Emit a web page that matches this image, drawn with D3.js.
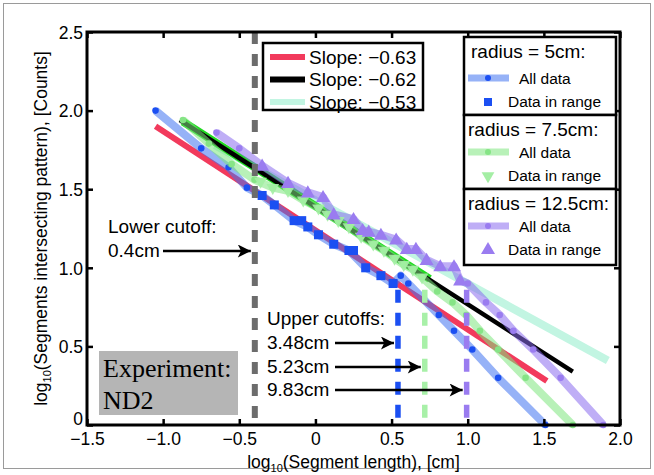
<!DOCTYPE html>
<html><head><meta charset="utf-8">
<script src="https://cdn.jsdelivr.net/npm/d3@7"></script>
<style>
body{margin:0;background:#fff;}
svg{display:block;font-family:"Liberation Sans",Arial,sans-serif;}
</style></head>
<body><svg id="c" width="654" height="475"></svg>
<script>
// ---------- data ----------
const xTicks = [-1.5, -1.0, -0.5, 0, 0.5, 1.0, 1.5, 2.0];
const yTicks = [0, 0.5, 1.0, 1.5, 2.0, 2.5];

// radius = 5cm
const r5All = [[-1.05,2.00],[-0.75,1.76],[-0.57,1.64],[-0.45,1.51],[-0.35,1.46],[-0.27,1.40],[-0.14,1.30],[-0.05,1.26],[0.02,1.21],[0.12,1.15],[0.22,1.11],[0.33,1.00],[0.43,0.95],[0.51,0.90],[0.56,0.95],[0.61,0.90],[0.81,0.70],[0.91,0.60],[1.03,0.48],[1.20,0.30],[1.51,0.00]];
const r5Range = [[-0.35,1.46],[-0.27,1.40],[-0.14,1.30],[-0.09,1.30],[-0.05,1.26],[0.02,1.21],[0.12,1.15],[0.22,1.11],[0.25,1.11],[0.33,1.00],[0.43,0.95],[0.51,0.90]];
// radius = 7.5cm
const r75All = [[-0.87,1.94],[-0.70,1.79],[-0.55,1.66],[-0.40,1.56],[-0.28,1.51],[-0.18,1.49],[-0.08,1.43],[0.02,1.38],[0.08,1.34],[0.15,1.30],[0.22,1.26],[0.30,1.20],[0.38,1.15],[0.45,1.11],[0.52,1.06],[0.58,1.02],[0.64,0.99],[0.70,0.94],[0.80,0.85],[0.90,0.78],[0.99,0.70],[1.08,0.60],[1.20,0.48],[1.38,0.30],[1.69,0.00]];
const r75Range = [[-0.36,1.55],[-0.28,1.51],[-0.18,1.49],[-0.08,1.43],[0.02,1.38],[0.08,1.34],[0.15,1.30],[0.22,1.26],[0.30,1.20],[0.38,1.15],[0.45,1.11],[0.52,1.06],[0.58,1.02],[0.64,0.99],[0.70,0.94]];
// radius = 12.5cm
const r125All = [[-0.65,1.86],[-0.50,1.76],[-0.35,1.65],[-0.18,1.54],[-0.05,1.48],[0.05,1.45],[0.12,1.34],[0.25,1.31],[0.31,1.24],[0.35,1.23],[0.43,1.21],[0.53,1.18],[0.60,1.12],[0.66,1.12],[0.73,1.05],[0.82,1.01],[0.91,1.01],[0.95,0.92],[1.00,0.90],[1.12,0.78],[1.21,0.70],[1.30,0.60],[1.43,0.48],[1.61,0.30],[1.89,0.00]];
const r125Range = [[-0.35,1.65],[-0.18,1.54],[-0.05,1.48],[0.05,1.45],[0.12,1.34],[0.25,1.31],[0.31,1.24],[0.35,1.23],[0.43,1.21],[0.53,1.18],[0.60,1.12],[0.66,1.12],[0.73,1.05],[0.82,1.01],[0.91,1.01],[0.95,0.92]];

// fitted lines (endpoints)
const redFit   = [[-1.05,1.90],[1.52,0.28]];
const blackFit = [[-0.89,1.94],[1.69,0.34]];
const cyanFit  = [[-0.66,1.78],[1.92,0.41]];
const greenBand = [[-0.87,1.93],[0.75,0.93]];
const slopeLabels = ["Slope: \u22120.63","Slope: \u22120.62","Slope: \u22120.53"];

// cutoffs (log10 cm)
const lowerCut = -0.398;
const upperCuts = [0.542, 0.718, 0.993];
const upperCutTop = [0.86, 0.86, 0.86];
const upperLabels = ["3.48cm","5.23cm","9.83cm"];

// ---------- drawing ----------
const svg = d3.select("#c");
const x = d3.scaleLinear([-1.5, 2.0], [87, 620]);
const y = d3.scaleLinear([0, 2.5], [425, 32]);
const line = d3.line().x(d => x(d[0])).y(d => y(d[1]));
const fmt = v => (v === 0 ? "0" : d3.format(".1f")(v).replace("-", "\u2212"));

// outer frame
svg.append("rect").attr("x",3.5).attr("y",3.5).attr("width",647).attr("height",465)
  .attr("fill","none").attr("stroke","#9a9a9a").attr("stroke-width",1);

const C = {
  blue:"#1b4ff2", blueLine:"#3f72f0",
  green:"#a4eea4", greenLine:"#7ee57e", greenDot:"#86e486",
  purple:"#9a7cf0", purpleLine:"#8b6bef",
  red:"#f23a5c", cyan:"#c2f5e2", gray:"#6c6c6c"
};

const plot = svg.append("g");

// fit lines
plot.append("path").datum(cyanFit).attr("d",line).attr("stroke",C.cyan).attr("stroke-width",8).attr("fill","none");
plot.append("path").datum(redFit).attr("d",line).attr("stroke",C.red).attr("stroke-width",6).attr("fill","none");
plot.append("path").datum(greenBand).attr("d",line).attr("stroke","#22d922").attr("stroke-width",8).attr("fill","none");
plot.append("path").datum(blackFit).attr("d",line).attr("stroke","#000").attr("stroke-width",4.5).attr("fill","none");

// all-data lines (translucent)
const series = [
  {all:r5All, col:C.blueLine, dot:C.blue},
  {all:r75All, col:C.greenLine, dot:C.greenDot},
  {all:r125All, col:C.purpleLine, dot:C.purple}
];
series.forEach(s => {
  plot.append("path").datum(s.all).attr("d",line).attr("stroke",s.col).attr("stroke-opacity",0.55)
    .attr("stroke-width",8).attr("stroke-linejoin","round").attr("fill","none");
  plot.selectAll(null).data(s.all).enter().append("circle")
    .attr("cx",d=>x(d[0])).attr("cy",d=>y(d[1])).attr("r",3.3).attr("fill",s.dot);
});

// in-range markers
const sq = 9;
plot.selectAll(null).data(r5Range).enter().append("rect")
  .attr("x",d=>x(d[0])-sq/2).attr("y",d=>y(d[1])-sq/2).attr("width",sq).attr("height",sq).attr("fill",C.blue);
const triDown = d3.symbol().type(d3.symbolTriangle).size(70);
plot.selectAll(null).data(r75Range).enter().append("path")
  .attr("d",triDown).attr("transform",d=>`translate(${x(d[0])},${y(d[1])}) rotate(180)`).attr("fill",C.green).attr("fill-opacity",0.9);
const triUp = d3.symbol().type(d3.symbolTriangle).size(85);
plot.selectAll(null).data(r125Range).enter().append("path")
  .attr("d",triUp).attr("transform",d=>`translate(${x(d[0])},${y(d[1])+1})`).attr("fill",C.purple);

// cutoff lines
plot.append("line").attr("x1",x(lowerCut)).attr("x2",x(lowerCut)).attr("y1",y(2.5)).attr("y2",y(0))
  .attr("stroke",C.gray).attr("stroke-width",6).attr("stroke-dasharray","12,10");
const cutCols = [C.blue, "#a8f0a8", C.purple];
upperCuts.forEach((u,i) => {
  plot.append("line").attr("x1",x(u)).attr("x2",x(u)).attr("y1",y(upperCutTop[i])).attr("y2",y(0))
    .attr("stroke",cutCols[i]).attr("stroke-width",5.5).attr("stroke-dasharray","13,10");
});

// axes
const xAxis = d3.axisBottom(x).tickValues(xTicks).tickSize(-6).tickSizeOuter(0).tickPadding(8).tickFormat(fmt);
const gx = svg.append("g").attr("transform",`translate(0,${y(0)})`).call(xAxis);
const xAxisTop = d3.axisTop(x).tickValues(xTicks).tickSize(-6).tickSizeOuter(0).tickFormat("");
const gxt = svg.append("g").attr("transform",`translate(0,${y(2.5)})`).call(xAxisTop);
const yAxis = d3.axisLeft(y).tickValues(yTicks).tickSize(-6).tickSizeOuter(0).tickPadding(4).tickFormat(fmt);
const gy = svg.append("g").attr("transform",`translate(${x(-1.5)},0)`).call(yAxis);
const yAxisR = d3.axisRight(y).tickValues(yTicks).tickSize(-6).tickSizeOuter(0).tickFormat("");
const gyr = svg.append("g").attr("transform",`translate(${x(2.0)},0)`).call(yAxisR);
[gx,gxt,gy,gyr].forEach(g => {
  g.select(".domain").remove();
  g.selectAll(".tick line").attr("stroke","#000").attr("stroke-width",2.5);
  g.selectAll("text").attr("font-size",17.5).attr("fill","#000").attr("font-family","Liberation Sans, Arial, sans-serif");
});
gy.selectAll("text").attr("dy","0.36em");
gy.selectAll(".tick").filter(d => d === 0).select("text").attr("dy","-0.05em");
svg.append("rect").attr("x",x(-1.5)).attr("y",y(2.5)).attr("width",x(2)-x(-1.5)).attr("height",y(0)-y(2.5))
  .attr("fill","none").attr("stroke","#000").attr("stroke-width",3);

// axis titles
const xt = svg.append("text").attr("x",(x(-1.5)+x(2))/2).attr("y",468).attr("text-anchor","middle").attr("font-size",17.5);
xt.append("tspan").text("log");
xt.append("tspan").text("10").attr("font-size",11).attr("dy",4);
xt.append("tspan").text("(Segment length), [cm]").attr("dy",-4);
const yt = svg.append("text").attr("transform",`translate(47,${(y(0)+y(2.5))/2}) rotate(-90)`).attr("text-anchor","middle").attr("font-size",17.5);
yt.append("tspan").text("log");
yt.append("tspan").text("10").attr("font-size",11).attr("dy",4);
yt.append("tspan").text("(Segments intersecting pattern), [Counts]").attr("dy",-4);

// arrows
svg.append("defs").append("marker").attr("id","ah").attr("viewBox","0 0 10 10").attr("refX",10).attr("refY",5)
  .attr("markerWidth",6).attr("markerHeight",5).attr("markerUnits","strokeWidth").attr("orient","auto")
  .append("path").attr("d","M0,0 L10,5 L0,10 L2.5,5 Z").attr("fill","#000");
function arrow(x1,x2,yy){
  svg.append("line").attr("x1",x1).attr("x2",x2).attr("y1",yy).attr("y2",yy).attr("stroke","#000")
    .attr("stroke-width",2.6).attr("marker-end","url(#ah)");
}
svg.append("text").attr("x",108).attr("y",233).attr("font-size",19).text("Lower cutoff:");
svg.append("text").attr("x",108).attr("y",257).attr("font-size",19).text("0.4cm");
arrow(163, x(lowerCut)-4, 251);

svg.append("text").attr("x",267).attr("y",325).attr("font-size",19).text("Upper cutoffs:");
upperLabels.forEach((t,i) => {
  const yy = [349,373,396][i];
  svg.append("text").attr("x",267).attr("y",yy).attr("font-size",19).text(t);
  arrow(335, x(upperCuts[i])-4, yy-6);
});

// experiment box
svg.append("rect").attr("x",99).attr("y",351).attr("width",139).attr("height",64).attr("fill","#b5b5b5");
svg.append("text").attr("x",103).attr("y",377).attr("font-family","Liberation Serif, Times New Roman, serif").attr("font-size",26).text("Experiment:");
svg.append("text").attr("x",103).attr("y",409).attr("font-family","Liberation Serif, Times New Roman, serif").attr("font-size",26).text("ND2");

// slope legend
const lg1 = svg.append("g");
lg1.append("rect").attr("x",263).attr("y",43).attr("width",160).attr("height",67).attr("fill","#fff").attr("stroke","#000").attr("stroke-width",2.5);
const fitCols = [C.red,"#000",C.cyan];
slopeLabels.forEach((t,i) => {
  const yy = 57 + i*22.5;
  lg1.append("line").attr("x1",270).attr("x2",305).attr("y1",yy).attr("y2",yy).attr("stroke",fitCols[i]).attr("stroke-width",6);
  lg1.append("text").attr("x",309).attr("y",yy+6.5).attr("font-size",19).text(t);
});

// radius legend
const lg2 = svg.append("g");
const secs = [
  {t:"radius = 5cm:", top:37, col:C.blueLine, dot:C.blue, mk:"sq"},
  {t:"radius = 7.5cm:", top:115, col:C.greenLine, dot:C.greenDot, mk:"down"},
  {t:"radius = 12.5cm:", top:189, col:C.purpleLine, dot:C.purple, mk:"up"}
];
const secH = [78, 74, 76];
secs.forEach((s,i) => {
  const g = lg2.append("g");
  g.append("rect").attr("x",464).attr("y",s.top).attr("width",152).attr("height",secH[i]).attr("fill","#fff").attr("stroke","#000").attr("stroke-width",2.5);
  g.append("text").attr("x",i===0?471:468).attr("y",s.top+21).attr("font-size",19).text(s.t);
  const ly = s.top + (i===0?41:37);
  g.append("line").attr("x1",468).attr("x2",509).attr("y1",ly).attr("y2",ly).attr("stroke",s.col).attr("stroke-opacity",0.55).attr("stroke-width",7);
  g.append("circle").attr("cx",488).attr("cy",ly).attr("r",3).attr("fill",s.dot);
  g.append("text").attr("x",519).attr("y",ly+6).attr("font-size",15.5).text("All data");
  const my = ly + 24;
  if (s.mk==="sq") g.append("rect").attr("x",484).attr("y",my-4).attr("width",8).attr("height",8).attr("fill",C.blue);
  else if (s.mk==="down") g.append("path").attr("d",triDown).attr("transform",`translate(488,${my}) rotate(180)`).attr("fill",C.green);
  else g.append("path").attr("d",triUp).attr("transform",`translate(488,${my})`).attr("fill",C.purple);
  g.append("text").attr("x",508).attr("y",my+5).attr("font-size",15.5).text("Data in range");
});
</script></body></html>
